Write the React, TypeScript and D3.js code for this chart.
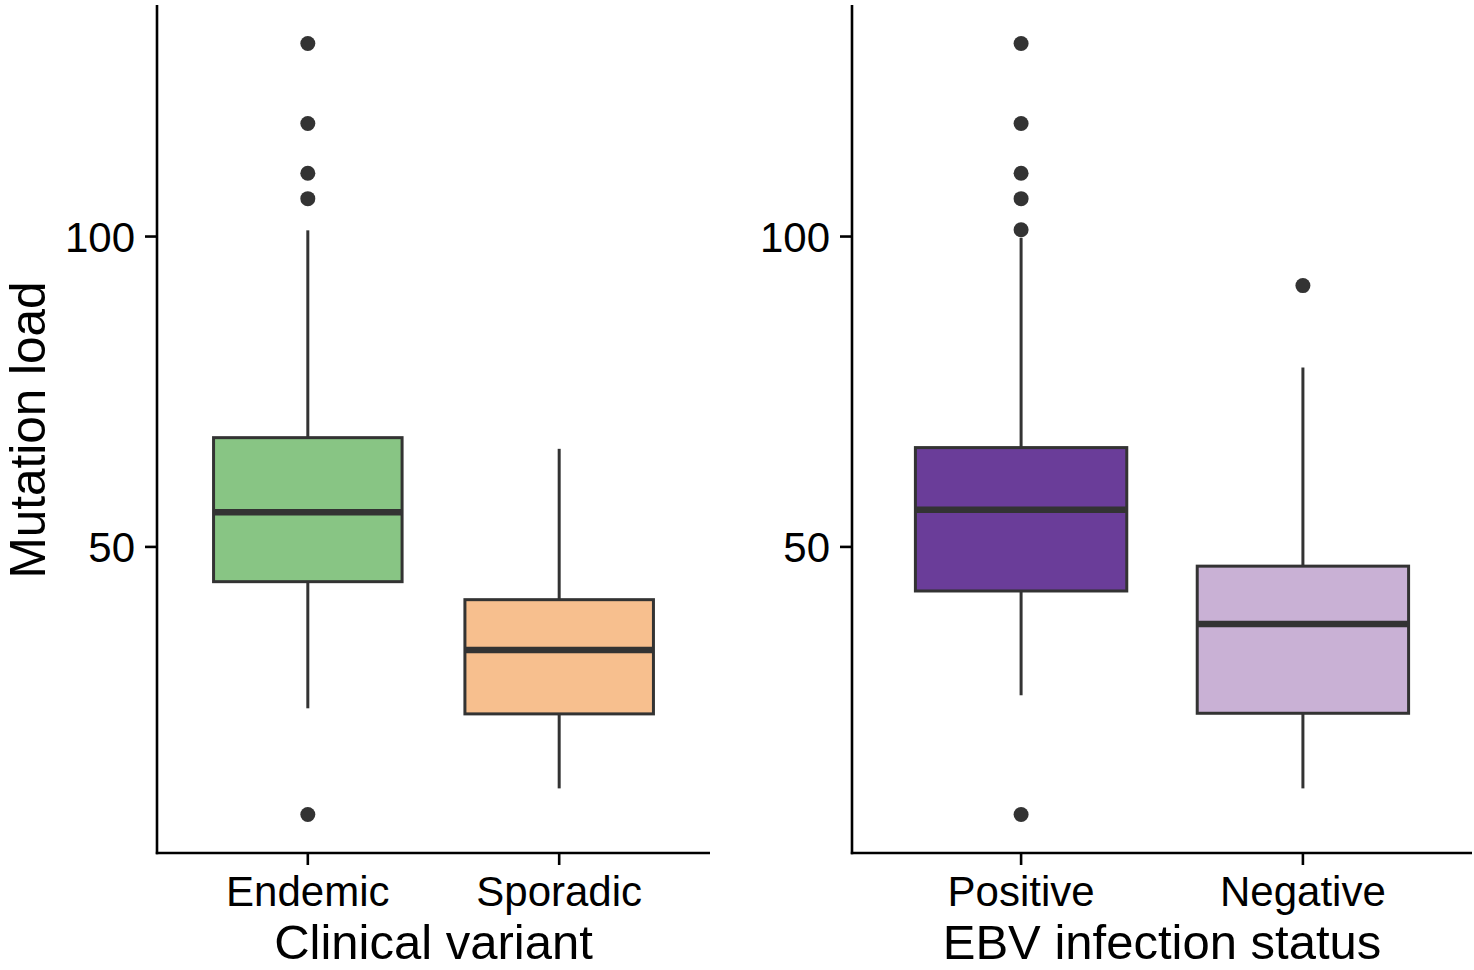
import React from "react";
import * as d3 from "d3";

// ---- Data ----
const clinicalCategories = ["Endemic", "Sporadic"];
const clinicalQ1 = [44.4, 23.1];
const clinicalMedian = [55.6, 33.4];
const clinicalQ3 = [67.6, 41.5];
const clinicalWhiskerLow = [24.0, 11.1];
const clinicalWhiskerHigh = [101.0, 65.8];
const clinicalOutliers = [[131.1, 118.2, 110.2, 106.1, 6.9], []];
const clinicalColors = ["#88C584", "#F7BF8E"];

const ebvCategories = ["Positive", "Negative"];
const ebvQ1 = [42.9, 23.2];
const ebvMedian = [56.0, 37.6];
const ebvQ3 = [66.0, 46.9];
const ebvWhiskerLow = [26.1, 11.1];
const ebvWhiskerHigh = [99.8, 78.9];
const ebvOutliers = [[131.1, 118.2, 110.2, 106.1, 101.1, 6.9], [92.1]];
const ebvColors = ["#6A3D99", "#C9B1D5"];

const yTicks = [50, 100];
const yDomain = [0.69, 137.3];
const yTitle = "Mutation load";
const xTitles = ["Clinical variant", "EBV infection status"];

const FONT = "'Liberation Sans', Arial, Helvetica, sans-serif";
const DARK = "#333333";
const TICK_FS = 42;
const TITLE_FS = 49;

type PanelProps = {
  left: number;
  right: number;
  top: number;
  bottom: number;
  categories: string[];
  q1: number[];
  median: number[];
  q3: number[];
  wLow: number[];
  wHigh: number[];
  outliers: number[][];
  colors: string[];
  xTitle: string;
};

function Panel(p: PanelProps) {
  const y = d3.scaleLinear().domain(yDomain).range([p.bottom, p.top]);
  // ggplot discrete scale: positions 1..n, limits 0.4 .. n+0.6
  const n = p.categories.length;
  const x = d3.scaleLinear().domain([0.4, n + 0.6]).range([p.left, p.right]);
  const boxHalf = x(1.375) - x(1);
  return (
    <g>
      {/* axes */}
      <line x1={p.left} x2={p.left} y1={p.top} y2={p.bottom + 1.2} stroke="#000" strokeWidth={2.6} />
      <line x1={p.left - 1.2} x2={p.right} y1={p.bottom} y2={p.bottom} stroke="#000" strokeWidth={2.6} />
      {yTicks.map((t) => (
        <g key={t}>
          <line x1={p.left - 12} x2={p.left} y1={y(t)} y2={y(t)} stroke="#000" strokeWidth={2.6} />
          <text x={p.left - 22} y={y(t)} dy="0.36em" textAnchor="end" fontSize={TICK_FS} fontFamily={FONT} fill="#000">
            {t}
          </text>
        </g>
      ))}
      {p.categories.map((c, i) => (
        <g key={c}>
          <line x1={x(i + 1)} x2={x(i + 1)} y1={p.bottom} y2={p.bottom + 12} stroke="#000" strokeWidth={2.6} />
          <text x={x(i + 1)} y={906} textAnchor="middle" fontSize={TICK_FS} fontFamily={FONT} fill="#000">
            {c}
          </text>
        </g>
      ))}
      <text x={(p.left + p.right) / 2} y={959} textAnchor="middle" fontSize={TITLE_FS} fontFamily={FONT} fill="#000">
        {p.xTitle}
      </text>
      {/* boxes */}
      {p.categories.map((c, i) => {
        const cx = x(i + 1);
        return (
          <g key={"b" + c}>
            <line x1={cx} x2={cx} y1={y(p.q3[i])} y2={y(p.wHigh[i])} stroke={DARK} strokeWidth={3} />
            <line x1={cx} x2={cx} y1={y(p.q1[i])} y2={y(p.wLow[i])} stroke={DARK} strokeWidth={3} />
            <rect
              x={cx - boxHalf}
              y={y(p.q3[i])}
              width={boxHalf * 2}
              height={y(p.q1[i]) - y(p.q3[i])}
              fill={p.colors[i]}
              stroke={DARK}
              strokeWidth={3}
            />
            <line x1={cx - boxHalf} x2={cx + boxHalf} y1={y(p.median[i])} y2={y(p.median[i])} stroke={DARK} strokeWidth={6.5} />
            {p.outliers[i].map((o, k) => (
              <circle key={k} cx={cx} cy={y(o)} r={7.5} fill={DARK} />
            ))}
          </g>
        );
      })}
    </g>
  );
}

export default function App() {
  return (
    <svg
      width={1474}
      height={970}
      style={{ position: "absolute", left: 0, top: 0, background: "#fff" }}
    >
      <rect width={1474} height={970} fill="#fff" />
      <text
        transform={`translate(44.5, 430) rotate(-90)`}
        textAnchor="middle"
        fontSize={49.5}
        fontFamily={FONT}
        fill="#000"
      >
        {yTitle}
      </text>
      <Panel
        left={157}
        right={710}
        top={5}
        bottom={853}
        categories={clinicalCategories}
        q1={clinicalQ1}
        median={clinicalMedian}
        q3={clinicalQ3}
        wLow={clinicalWhiskerLow}
        wHigh={clinicalWhiskerHigh}
        outliers={clinicalOutliers}
        colors={clinicalColors}
        xTitle={xTitles[0]}
      />
      <Panel
        left={852}
        right={1472}
        top={5}
        bottom={853}
        categories={ebvCategories}
        q1={ebvQ1}
        median={ebvMedian}
        q3={ebvQ3}
        wLow={ebvWhiskerLow}
        wHigh={ebvWhiskerHigh}
        outliers={ebvOutliers}
        colors={ebvColors}
        xTitle={xTitles[1]}
      />
    </svg>
  );
}
